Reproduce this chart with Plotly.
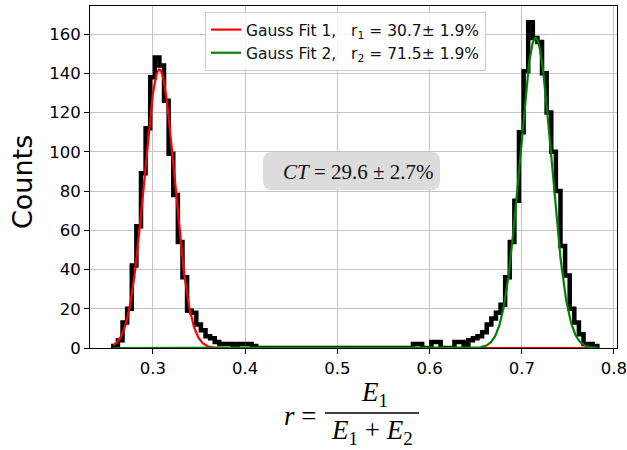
import numpy as np
import plotly.graph_objects as go

# ---------------- data ----------------
bin_start = 0.257
bin_width = 0.005
counts = [1, 4, 13, 20, 42, 62, 89, 112, 138, 148,
          144, 126, 99, 78, 54, 36, 19, 18, 12, 9,
          6, 5, 3, 2, 2, 2, 1, 2, 2, 2,
          1, 0, 0, 0, 0, 0, 0, 0, 0, 0,
          0, 0, 0, 0, 0, 0, 0, 0, 0, 0,
          0, 0, 0, 0, 0, 0, 0, 0, 0, 0,
          0, 0, 0, 0, 0, 2, 2, 0, 0, 3,
          3, 0, 0, 0, 3, 3, 1, 4, 5, 6,
          8, 12, 15, 18, 22, 36, 54, 75, 110, 141,
          166, 158, 156, 140, 120, 100, 80, 52, 37, 20,
          13, 7, 2, 2, 1]

fit1_amp, fit1_mu, fit1_sigma = 142, 0.307, 0.0165
fit2_amp, fit2_mu, fit2_sigma = 158, 0.715, 0.0172
fit1_label = "Gauss Fit 1,\u00a0\u00a0\u00a0r<sub>1</sub> = 30.7± 1.9%"
fit2_label = "Gauss Fit 2,\u00a0\u00a0\u00a0r<sub>2</sub> = 71.5± 1.9%"
ct_text = "<i>CT</i> = 29.6 ± 2.7%"
x_ticks = [0.3, 0.4, 0.5, 0.6, 0.7, 0.8]
y_ticks = [0, 20, 40, 60, 80, 100, 120, 140, 160]

# ---------------- derived ----------------
edges = bin_start + bin_width * np.arange(len(counts) + 1)
x_step = np.concatenate([[edges[0]], edges])
y_step = [0] + counts + [0]

xf = np.linspace(edges[0], edges[-1], 800)
g1 = fit1_amp * np.exp(-(xf - fit1_mu) ** 2 / (2 * fit1_sigma ** 2))
g2 = fit2_amp * np.exp(-(xf - fit2_mu) ** 2 / (2 * fit2_sigma ** 2))

W, H = 627, 450
PL, PR, PT, PB = 90, 617, 6, 348


def px(x):
    return (x - PL) / (PR - PL)


def py(y):
    return (PB - y) / (PB - PT)


fig = go.Figure()
fig.add_trace(go.Scatter(x=x_step, y=y_step, mode="lines", line_shape="hv",
                         line=dict(color="black", width=4.5), showlegend=False,
                         hoverinfo="skip"))
fig.add_trace(go.Scatter(x=xf, y=g1, mode="lines", line=dict(color="#ff0000", width=2.2),
                         name=fit1_label))
fig.add_trace(go.Scatter(x=xf, y=g2, mode="lines", line=dict(color="#008000", width=2.2),
                         name=fit2_label))

axis_common = dict(showgrid=True, gridcolor="#c4c4c4", gridwidth=1,
                   showline=True, linecolor="black", linewidth=1, mirror=True,
                   ticks="outside", ticklen=5, tickwidth=1, tickcolor="black",
                   zeroline=False, ticklabeloverflow="allow", automargin=False,
                   tickfont=dict(family="DejaVu Sans", size=16.5, color="black"))

fig.update_layout(
    width=W, height=H,
    margin=dict(l=PL, r=W - PR, t=PT, b=H - PB),
    paper_bgcolor="white", plot_bgcolor="white",
    xaxis=dict(range=[0.2317, 0.8033], tickvals=x_ticks,
               ticktext=[f"{v:.1f}" for v in x_ticks], **axis_common),
    yaxis=dict(range=[0, 1.05 * max(counts)], tickvals=y_ticks, **axis_common),
    legend=dict(x=px(205), y=py(12), xanchor="left", yanchor="top",
                bgcolor="rgba(255,255,255,0.85)", bordercolor="#cccccc", borderwidth=1,
                font=dict(family="DejaVu Sans", size=15.5, color="#111111"),
                tracegroupgap=0),
    showlegend=True,
)

serif = "Liberation Serif"
annotations = [
    dict(text="Counts", x=px(22), y=py(182), textangle=-90,
         font=dict(family="DejaVu Sans", size=27, color="black")),
    dict(text="<i>r</i> =", x=px(319), y=py(416), xanchor="right",
         font=dict(family=serif, size=27, color="black")),
    dict(text="<i>E</i><sub>1</sub>", x=px(374), y=py(394),
         font=dict(family=serif, size=27, color="black")),
    dict(text="<i>E</i><sub>1</sub> + <i>E</i><sub>2</sub>", x=px(372), y=py(432),
         font=dict(family=serif, size=27, color="black")),
    dict(text=ct_text, x=px(358), y=py(172),
         font=dict(family=serif, size=21, color="#111111")),
]
for a in annotations:
    a.update(xref="paper", yref="paper", showarrow=False)
    a.setdefault("xanchor", "center")
    a.setdefault("yanchor", "middle")
fig.update_layout(annotations=annotations)


def rounded_rect(x0, y0, x1, y1, r):
    # pixel coordinates -> paper path with rounded corners
    rx = r / (PR - PL)
    ry = r / (PB - PT)
    X0, X1 = px(x0), px(x1)
    Yt, Yb = py(y0), py(y1)
    return (f"M {X0 + rx},{Yt} L {X1 - rx},{Yt} Q {X1},{Yt} {X1},{Yt - ry} "
            f"L {X1},{Yb + ry} Q {X1},{Yb} {X1 - rx},{Yb} "
            f"L {X0 + rx},{Yb} Q {X0},{Yb} {X0},{Yb + ry} "
            f"L {X0},{Yt - ry} Q {X0},{Yt} {X0 + rx},{Yt} Z")


fig.update_layout(shapes=[
    dict(type="path", xref="paper", yref="paper", path=rounded_rect(263, 152, 440, 190, 9),
         fillcolor="#dcdcdc", line=dict(width=0), layer="above"),
    dict(type="line", xref="paper", yref="paper", x0=px(325), x1=px(419),
         y0=py(413), y1=py(413), line=dict(color="black", width=1.5)),
])

fig.write_html("out.html", config={"displayModeBar": False},
               post_script="document.body.style.margin='0';document.body.style.padding='0';")
